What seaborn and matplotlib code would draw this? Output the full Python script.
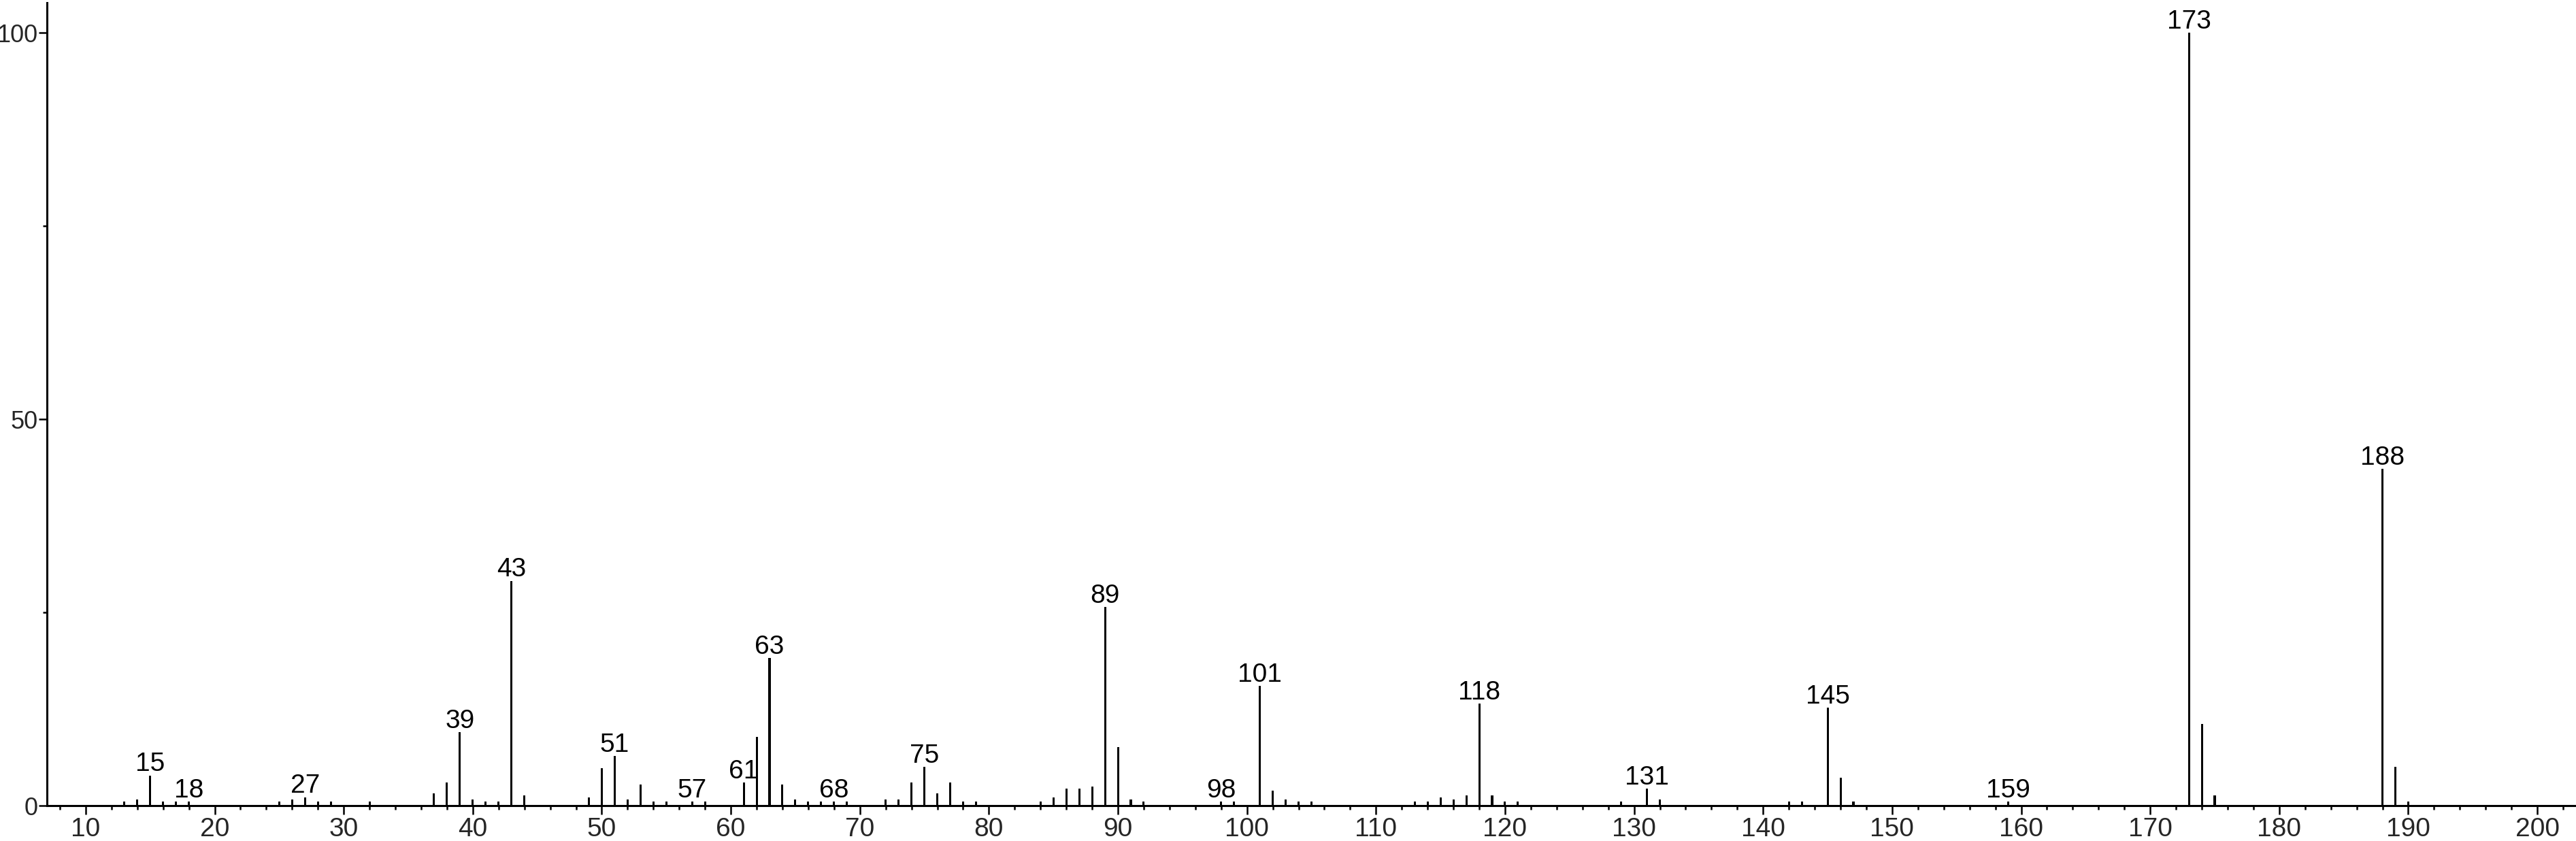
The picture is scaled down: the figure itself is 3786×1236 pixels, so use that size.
import numpy as np
import pandas as pd
import seaborn as sns
import matplotlib
matplotlib.use("Agg")
import matplotlib.pyplot as plt
from matplotlib.ticker import MultipleLocator, FixedLocator
from matplotlib import font_manager

# ---- data (m/z vs relative intensity) ----
mz = [13, 14, 15, 16, 17, 18, 25, 26, 27, 28, 29, 32, 37, 38, 39, 40, 41, 42, 43, 44,
      49, 50, 51, 52, 53, 54, 55, 57, 58, 61, 62, 63, 64, 65, 66, 67, 68, 69, 72, 73,
      74, 75, 76, 77, 78, 79, 84, 85, 86, 87, 88, 89, 90, 91, 92, 98, 99, 101, 102, 103,
      104, 105, 113, 114, 115, 116, 117, 118, 119, 120, 121, 129, 131, 132, 142, 143, 145,
      146, 147, 159, 173, 174, 175, 188, 189, 190]
intensity = [0.5, 0.8, 3.9, 0.5, 0.5, 0.5, 0.5, 0.8, 1.1, 0.5, 0.5, 0.5, 1.6, 3.0, 9.5, 0.8, 0.5, 0.5, 29.1, 1.3,
             1.1, 4.8, 6.4, 0.8, 2.7, 0.5, 0.5, 0.5, 0.5, 3.0, 8.9, 19.1, 2.7, 0.8, 0.5, 0.5, 0.5, 0.5, 0.8, 0.8,
             3.0, 5.0, 1.6, 3.0, 0.5, 0.5, 0.5, 1.1, 2.2, 2.2, 2.5, 25.7, 7.6, 0.8, 0.5, 0.5, 0.5, 15.5, 1.9, 0.8,
             0.5, 0.5, 0.5, 0.5, 1.1, 0.8, 1.3, 13.2, 1.3, 0.5, 0.5, 0.5, 2.2, 0.8, 0.5, 0.5, 12.7,
             3.6, 0.5, 0.5, 100.0, 10.6, 1.3, 43.6, 5.0, 0.5]
labeled = [15, 18, 27, 39, 43, 51, 57, 61, 63, 68, 75, 89, 98, 101, 118, 131, 145, 159, 173, 188]

x_major = list(range(10, 201, 10))
y_major = [0, 50, 100]
y_minor = [25, 75]

df = pd.DataFrame({"mz": mz, "intensity": intensity})

sns.set_theme(style="white")
plt.rcParams['font.family'] = ['Liberation Sans', 'DejaVu Sans']

installed = {f.name for f in font_manager.fontManager.ttflist}
narrow_ok = "Liberation Sans Narrow" in installed

W, H = 3786, 1236
fig = plt.figure(figsize=(W / 100, H / 100), dpi=100)
ax = fig.add_axes([69 / W, 52 / H, (W - 69) / W, 1180 / H])

sns.barplot(data=df, x="mz", y="intensity", native_scale=True, width=0.16,
            color="black", errorbar=None, linewidth=0, saturation=1, ax=ax)
for p in ax.patches:
    p.set_antialiased(False)

ax.set_xlim(7, 203)
ax.set_ylim(0, 103.9)

for s in ["top", "right"]:
    ax.spines[s].set_visible(False)
for s in ["left", "bottom"]:
    ax.spines[s].set_visible(True)
    ax.spines[s].set_color("black")
    ax.spines[s].set_linewidth(2.2)

ax.xaxis.set_major_locator(FixedLocator(x_major))
ax.xaxis.set_minor_locator(MultipleLocator(2))
ax.yaxis.set_major_locator(FixedLocator(y_major))
ax.yaxis.set_minor_locator(FixedLocator(y_minor))
ax.set_xticklabels([str(v) for v in x_major])
ax.set_yticklabels([str(v) for v in y_major])

ax.tick_params(axis="x", which="major", direction="out", length=9, width=1.8,
               color="black", labelsize=28, pad=3, bottom=True)
ax.tick_params(axis="x", which="minor", direction="out", length=4.5, width=1.8,
               color="black", bottom=True)
ax.tick_params(axis="y", which="major", direction="out", length=9, width=1.8,
               color="black", labelsize=28 if narrow_ok else 26, pad=0.8, left=True)
ax.tick_params(axis="y", which="minor", direction="out", length=4.5, width=1.8,
               color="black", left=True)
if narrow_ok:
    for t in ax.get_yticklabels():
        t.set_family(["Liberation Sans Narrow", "Liberation Sans"])
ax.set_xlabel("")
ax.set_ylabel("")
ax.grid(False)

lookup = dict(zip(mz, intensity))
for m in labeled:
    ax.annotate(str(m), xy=(m, lookup[m]), xytext=(0, 4.5), textcoords="offset points",
                ha="center", va="baseline", fontsize=28, color="black",
                annotation_clip=False)

fig.savefig("out.png", dpi=100, facecolor="white")
